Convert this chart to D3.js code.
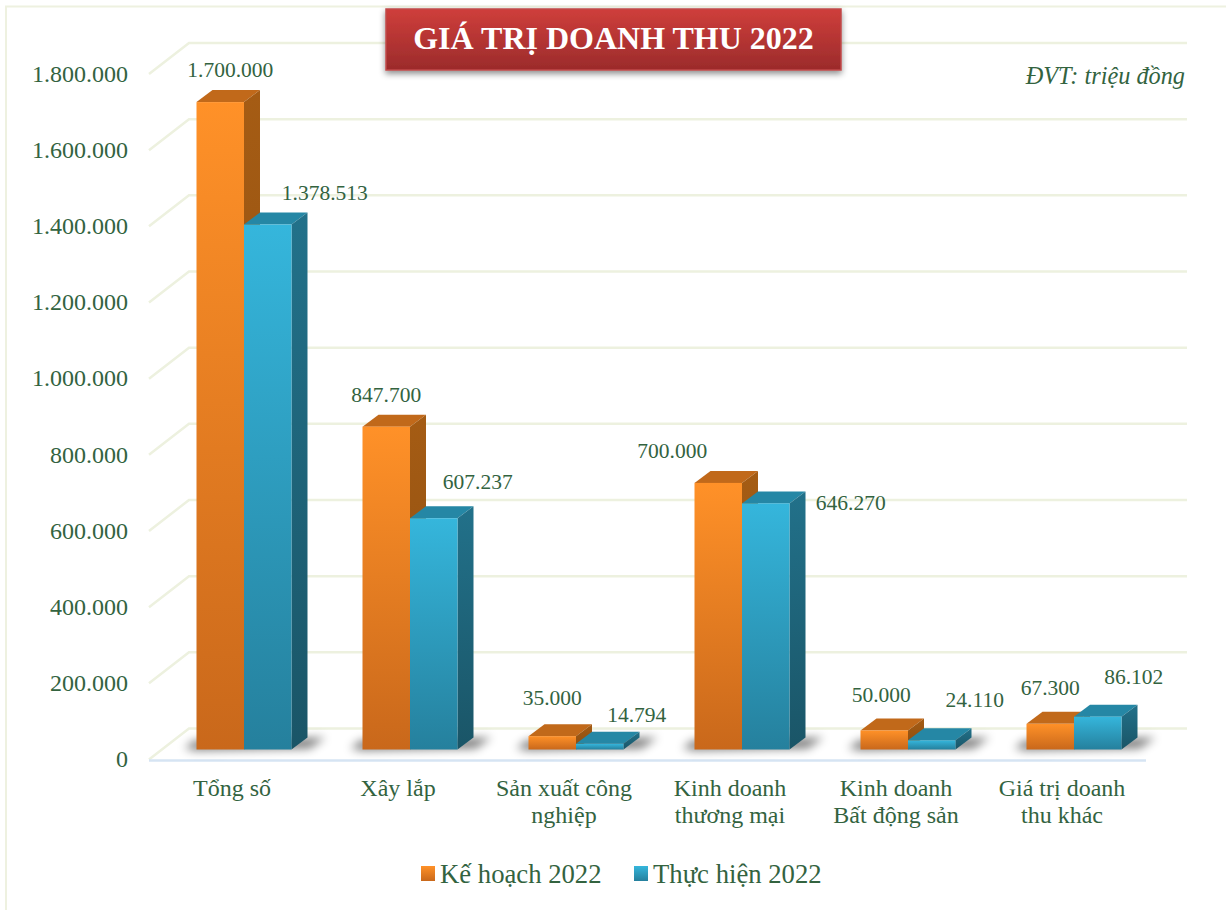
<!DOCTYPE html>
<html>
<head>
<meta charset="utf-8">
<title>Giá trị doanh thu 2022</title>
<script src="https://cdn.jsdelivr.net/npm/d3@7"></script>
<style>
  html, body { margin: 0; background: #fff; }
  svg { display: block; }
  text { font-family: "Liberation Serif", serif; fill: #33633f; }
</style>
</head>
<body>
<script>
// values
var categories = ["Tổng số", "Xây lắp", "Sản xuất công\nnghiệp", "Kinh doanh\nthương mại", "Kinh doanh\nBất động sản", "Giá trị doanh\nthu khác"];
var keHoach = [1700000, 847700, 35000, 700000, 50000, 67300];
var thucHien = [1378513, 607237, 14794, 646270, 24110, 86102];
var seriesNames = ["Kế hoạch 2022", "Thực hiện 2022"];
var yTicks = [0, 200000, 400000, 600000, 800000, 1000000, 1200000, 1400000, 1600000, 1800000];

// data labels were placed by hand in the original, so nudge them from the bar top
var keHoachNudge = [[10, -25], [0, -25], [0, -31], [-46, -25], [-3, -28], [0, -29]];
var thucHienNudge = [[57, -25], [44, -29], [37, -22], [85, 7], [43, -33], [36, -33]];

var width = 1226, height = 910;

// front edge of the floor, back wall sits up and right of it
var wall = {dx: 40, dy: -31};
var inset = {dx: 12.5, dy: -10};
var depth = {dx: 16, dy: -12};

var x0 = d3.scaleBand().domain(categories).range([149, 1145]);
var x1 = d3.scaleBand().domain(seriesNames).range([35, 130]);  // inside one band
var y = d3.scaleLinear().domain([0, 1800000]).range([759.5, 74]);

var fmt = d3.formatLocale({decimal: ",", thousands: ".", grouping: [3], currency: ["", ""]}).format(",d");

var svg = d3.select("body").append("svg").attr("width", width).attr("height", height);
var defs = svg.append("defs");

function vGrad(id, top, bottom) {
  var g = defs.append("linearGradient").attr("id", id).attr("x1", 0).attr("y1", 0).attr("x2", 0).attr("y2", 1);
  g.append("stop").attr("offset", "0%").attr("stop-color", top);
  g.append("stop").attr("offset", "100%").attr("stop-color", bottom);
}
vGrad("orangeFront", "#ff9128", "#c9681b");
vGrad("blueFront", "#35b6dc", "#25809d");
vGrad("orangeSide", "#a55c14", "#8a4c10");
vGrad("blueSide", "#22718a", "#1a5567");
vGrad("titleFill", "#cf3e3b", "#9b2b2b");

defs.append("filter").attr("id", "blur").attr("x", "-30%").attr("y", "-150%").attr("width", "160%").attr("height", "400%")
  .append("feGaussianBlur").attr("stdDeviation", 5);
defs.append("filter").attr("id", "titleShadow").attr("x", "-5%").attr("y", "-20%").attr("width", "110%").attr("height", "150%")
  .append("feDropShadow").attr("dx", 0).attr("dy", 3).attr("stdDeviation", 3).attr("flood-color", "#000").attr("flood-opacity", 0.45);

// outer frame, only the top and left edges show
svg.append("path").attr("d", "M6,910V6.5H1226")
  .attr("fill", "none").attr("stroke", "#eef1e0").attr("stroke-width", 2);

// gridlines: diagonal on the side wall then across the back
svg.append("g").selectAll("path").data(yTicks).join("path")
  .attr("d", function(d) {
    var p = d3.path();
    p.moveTo(149, y(d));
    p.lineTo(149 + wall.dx, y(d) + wall.dy);
    p.lineTo(1187, y(d) + wall.dy);
    return p.toString();
  })
  .attr("fill", "none").attr("stroke", "#edf1df").attr("stroke-width", 2.5);

// floor front line
svg.append("line").attr("x1", 149).attr("x2", 1146).attr("y1", y(0) + 1).attr("y2", y(0) + 1)
  .attr("stroke", "#d6e4f3").attr("stroke-width", 2.5);

// y axis
var yAxis = d3.axisLeft(y).tickValues(yTicks).tickFormat(fmt).tickSize(0).tickPadding(0);
svg.append("g").attr("transform", "translate(128,0)").call(yAxis)
  .call(function(g) { g.select(".domain").remove(); })
  .selectAll("text").attr("font-size", 24).attr("font-family", null).attr("dy", "0.3em");

// x axis, labels break on two lines
var xAxis = d3.axisBottom(x0).tickSize(0).tickPadding(0);
var xg = svg.append("g").attr("transform", "translate(0,796)").call(xAxis);
xg.select(".domain").remove();
xg.selectAll("text").attr("font-size", 24).attr("font-family", null).attr("y", 0).attr("dy", 0).text(null)
  .selectAll("tspan").data(function(d) { return d.split("\n"); }).join("tspan")
  .attr("x", 0).attr("dy", function(d, i) { return i ? 27 : 0; }).text(function(d) { return d; });

var bars = [];
categories.forEach(function(c, i) {
  bars.push({cat: c, key: seriesNames[0], value: keHoach[i], nudge: keHoachNudge[i], front: "orangeFront", side: "orangeSide", topFill: "#c1691a"});
  bars.push({cat: c, key: seriesNames[1], value: thucHien[i], nudge: thucHienNudge[i], front: "blueFront", side: "blueSide", topFill: "#2587a5"});
});

function left(d) { return x0(d.cat) + x1(d.key) + inset.dx; }
function right(d) { return left(d) + x1.bandwidth(); }
function top_(d) { return y(d.value) + inset.dy; }
var base = y(0) + inset.dy;

function poly(pts) { return d3.line()(pts) + "Z"; }

// floor shadow under every bar pair
svg.append("g").selectAll("path").data(categories).join("path")
  .attr("d", function(c) {
    var l = x0(c) + x1(seriesNames[0]) + inset.dx, r = x0(c) + x1(seriesNames[1]) + x1.bandwidth() + inset.dx;
    return poly([[l - 12, base - 1], [l - 2, base - 9], [r + depth.dx + 18, base - 12], [r + depth.dx + 2, base - 1], [l, base + 1]]);
  })
  .attr("fill", "#000").attr("opacity", 0.5).attr("filter", "url(#blur)");

var bar = svg.append("g").selectAll("g").data(bars).join("g");

// top and side first, the orange front is covered by the neighbouring blue one
bar.append("path").attr("fill", function(d) { return d.topFill; })
  .attr("d", function(d) {
    return poly([[left(d), top_(d)], [left(d) + depth.dx, top_(d) + depth.dy], [right(d) + depth.dx, top_(d) + depth.dy], [right(d), top_(d)]]);
  });
bar.append("path").attr("fill", function(d) { return "url(#" + d.side + ")"; })
  .attr("d", function(d) {
    return poly([[right(d), top_(d)], [right(d) + depth.dx, top_(d) + depth.dy], [right(d) + depth.dx, base + depth.dy], [right(d), base]]);
  });
bar.append("rect")
  .attr("x", left).attr("y", top_)
  .attr("width", x1.bandwidth())
  .attr("height", function(d) { return base - top_(d); })
  .attr("fill", function(d) { return "url(#" + d.front + ")"; });

// data labels
svg.append("g").selectAll("text").data(bars).join("text")
  .attr("text-anchor", "middle").attr("font-size", 21.5)
  .attr("x", function(d) { return left(d) + x1.bandwidth() / 2 + d.nudge[0]; })
  .attr("y", function(d) { return top_(d) + d.nudge[1]; })
  .text(function(d) { return fmt(d.value); });

// title box
svg.append("rect").attr("x", 386).attr("y", 9).attr("width", 455).attr("height", 61)
  .attr("fill", "url(#titleFill)").attr("stroke", "#c0494a").attr("stroke-width", 1.5).attr("filter", "url(#titleShadow)");
svg.append("text").attr("x", 613.5).attr("y", 49).attr("text-anchor", "middle")
  .attr("font-size", 32).attr("font-weight", "bold").style("fill", "#fff").text("GIÁ TRỊ DOANH THU 2022");

svg.append("text").attr("x", 1185).attr("y", 84).attr("text-anchor", "end")
  .attr("font-size", 24.3).attr("font-style", "italic").text("ĐVT: triệu đồng");

// legend
var legendX = d3.scaleOrdinal().domain(seriesNames).range([421, 634]);
var legendFill = d3.scaleOrdinal().domain(seriesNames).range(["orangeFront", "blueFront"]);
var lg = svg.append("g").selectAll("g").data(seriesNames).join("g")
  .attr("transform", function(d) { return "translate(" + legendX(d) + ",866)"; });
lg.append("rect").attr("width", 14).attr("height", 15).attr("fill", function(d) { return "url(#" + legendFill(d) + ")"; });
lg.append("text").attr("x", 19).attr("y", 17).attr("font-size", 26.7).text(function(d) { return d; });
</script>
</body>
</html>
